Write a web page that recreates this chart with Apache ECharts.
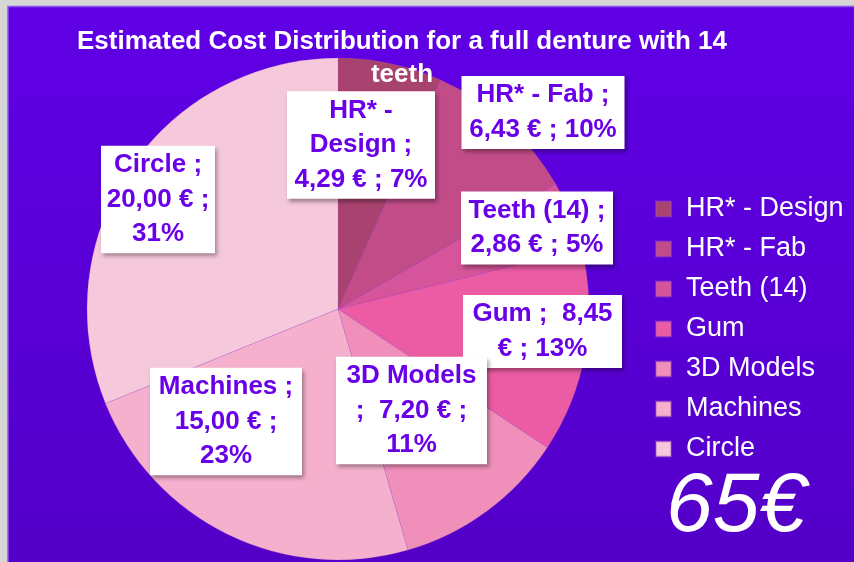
<!DOCTYPE html>
<html>
<head>
<meta charset="utf-8">
<script src="https://cdn.jsdelivr.net/npm/echarts@6/dist/echarts.min.js"></script>
<style>
html,body{margin:0;padding:0;background:#d6d6d6;}
#chart{width:854px;height:562px;}
</style>
</head>
<body>
<div id="chart"></div>
<script>
// ---- data ----
const categories = ['HR* - Design', 'HR* - Fab', 'Teeth (14)', 'Gum', '3D Models', 'Machines', 'Circle'];
const costs = [4.29, 6.43, 2.86, 8.45, 7.20, 15.00, 20.00];
const titleText = 'Estimated Cost Distribution for a full denture with 14\nteeth';
const totalText = '65€';

// ---- styles / layout ----
const sliceColors = ['#a8426f', '#c24c88', '#d6559a', '#ec5ca4', '#f08fba', '#f4b0cc', '#f6c8dc'];
const labelBoxes = [
  {x: 361, y: 145, w: 148},
  {x: 543, y: 112.5, w: 163},
  {x: 537, y: 228, w: 152},
  {x: 542.5, y: 331.5, w: 159},
  {x: 411.5, y: 410.5, w: 151},
  {x: 226, y: 421.5, w: 152},
  {x: 158, y: 199.5, w: 114}
];

function fmt(v) { return v.toFixed(2).replace('.', ','); }
function labelLines(i, name, v, p) {
  switch (i) {
    case 0: return ['HR* -', 'Design ;', v + ' € ; ' + p + '%'];
    case 1: return [name + ' ;', v + ' € ; ' + p + '%'];
    case 2: return [name + ' ;', v + ' € ; ' + p + '%'];
    case 3: return [name + ' ;  ' + v, '€ ; ' + p + '%'];
    case 4: return [name, ';  ' + v + ' € ;', p + '%'];
    default: return [name + ' ;', v + ' € ;', p + '%'];
  }
}

const chart = echarts.init(document.getElementById('chart'), null, {renderer: 'canvas'});
const FONT = '"Liberation Sans", Arial, Helvetica, sans-serif';

chart.setOption({
  backgroundColor: '#d6d6d6',
  animation: false,
  color: sliceColors,
  graphic: [
    {
      type: 'rect', z: -10, silent: true,
      shape: {x: 8, y: 6.5, width: 850, height: 560},
      style: {
        fill: new echarts.graphic.LinearGradient(0, 0, 0, 1, [
          {offset: 0, color: '#6000e6'},
          {offset: 1, color: '#5300c8'}
        ]),
        stroke: '#8c55ea', lineWidth: 1.5
      }
    },
    {
      type: 'text', z: 10, silent: true,
      x: 736, y: 508,
      style: {
        text: totalText, fill: '#ffffff',
        font: 'italic 84px ' + FONT,
        textAlign: 'center', textVerticalAlign: 'middle'
      }
    }
  ],
  title: {
    text: titleText,
    left: 397, top: 20, textAlign: 'center',
    textStyle: {color: '#ffffff', fontSize: 26, fontWeight: 'bold', fontFamily: FONT, lineHeight: 33}
  },
  legend: {
    orient: 'vertical',
    left: 655, top: 195.5,
    padding: 0,
    itemWidth: 15, itemHeight: 15, itemGap: 13,
    icon: 'rect',
    data: categories,
    textStyle: {color: '#ffffff', fontSize: 27, fontFamily: FONT, lineHeight: 26, padding: [0, 0, 0, 10]}
  },
  series: [{
    type: 'pie',
    center: [338, 309],
    radius: 251,
    startAngle: 90,
    clockwise: true,
    percentPrecision: 0,
    avoidLabelOverlap: false,
    itemStyle: {borderColor: 'rgba(170,90,190,0.4)', borderWidth: 0.5},
    label: {
      show: true,
      position: 'inside',
      color: '#6a00e8',
      fontSize: 26,
      fontWeight: 'bold',
      fontFamily: FONT,
      lineHeight: 34.5,
      backgroundColor: '#ffffff',
      padding: [3, 0, 1, 0],
      align: 'center',
      shadowColor: 'rgba(0,0,0,0.35)',
      shadowBlur: 4,
      shadowOffsetX: 2,
      shadowOffsetY: 3,
      formatter: function (p) {
        return labelLines(p.dataIndex, p.name, fmt(p.value), p.percent).join('\n');
      }
    },
    labelLine: {show: false},
    labelLayout: function (params) {
      const b = labelBoxes[params.dataIndex];
      return {x: b.x, y: b.y, align: 'center', verticalAlign: 'middle', width: b.w};
    },
    emphasis: {disabled: true},
    data: categories.map(function (c, i) { return {name: c, value: costs[i]}; })
  }]
});
</script>
</body>
</html>
